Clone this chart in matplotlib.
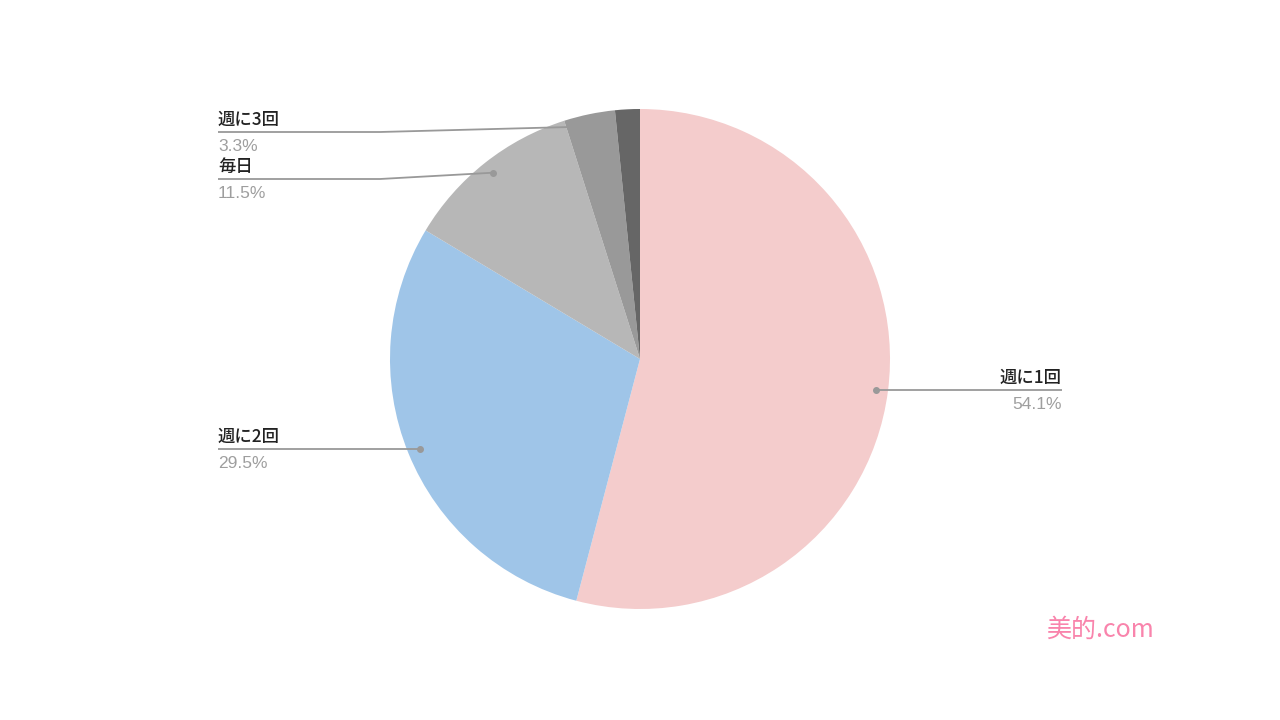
import numpy as np
import matplotlib
matplotlib.use("Agg")
import matplotlib.pyplot as plt

categories = ["週に1回", "週に2回", "毎日", "週に3回", "その他"]
values = [54.1, 29.5, 11.5, 3.3, 1.6]
pct_labels = ["54.1%", "29.5%", "11.5%", "3.3%", ""]
show_label = [True, True, True, True, False]
colors = ["#F4CCCC", "#9FC5E8", "#B7B7B7", "#999999", "#666666"]

W, H = 1280, 720
fig = plt.figure(figsize=(12.8, 7.2), dpi=100)
ax = fig.add_axes([0, 0, 1, 1])

cx, cy, R = 640, 720 - 359, 250
wedges, _ = ax.pie(values, colors=colors, startangle=90, counterclock=False,
                   center=(cx, cy), radius=R, frame=True,
                   wedgeprops=dict(linewidth=0))
ax.set_xlim(0, W)
ax.set_ylim(0, H)
ax.set_aspect("equal")
ax.axis("off")

jp = ["Noto Sans CJK JP", "DejaVu Sans"]
# label layout: (line y in px from top, side, bend x or None)
layout = {
    "週に1回": (390, "right", None),
    "週に2回": (449, "left", None),
    "毎日": (179, "left", 380),
    "週に3回": (132, "left", 380),
}
line_color = "#999999"
for w, cat, pct, show in zip(wedges, categories, pct_labels, show_label):
    if not show:
        continue
    mid = np.deg2rad((w.theta1 + w.theta2) / 2)
    px = cx + 0.95 * R * np.cos(mid)
    py = cy + 0.95 * R * np.sin(mid)
    ly, side, bend = layout[cat]
    LY = H - ly
    if side == "right":
        ax.plot([px, 1062], [LY, LY], color=line_color, lw=1.3, solid_capstyle="butt")
        tx, ha = 1062, "right"
        dot_y = LY
    else:
        if bend is None:
            ax.plot([px, 218], [LY, LY], color=line_color, lw=1.3, solid_capstyle="butt")
            dot_y = LY
        else:
            ax.plot([px, bend, 218], [py, LY, LY], color=line_color, lw=1.3, solid_capstyle="butt")
            dot_y = py
        tx, ha = 218, "left"
    ax.plot([px], [dot_y], "o", color=line_color, ms=4)
    ax.text(tx, LY + 3, cat, ha=ha, va="bottom", fontsize=12.5, color="#222222",
            family=jp, fontweight="medium")
    ax.text(tx, LY - 7, pct, ha=ha, va="top", fontsize=12.5, color="#9E9E9E",
            family=["Liberation Sans", "DejaVu Sans"])

ax.text(1100, 720 - 630, "美的.com", ha="center", va="center", fontsize=18,
        color="#F984AC", family=jp)

fig.savefig("out.png", dpi=100)
